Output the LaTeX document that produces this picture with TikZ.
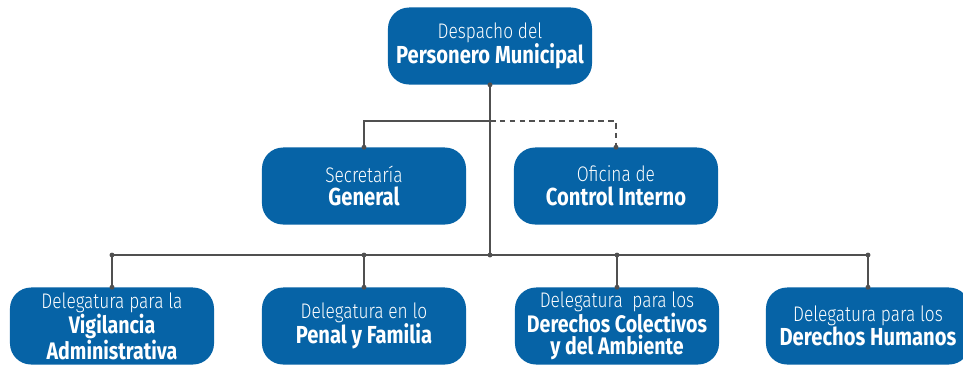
\documentclass[tikz,border=0pt]{standalone}
\usepackage{fontspec}
\setmainfont{Fira Sans}[FakeStretch=0.82]
\newfontfamily\lightfont{Fira Sans Light}[FakeStretch=0.82]
\definecolor{orgblue}{RGB}{6,99,166}
\definecolor{orgline}{RGB}{80,80,80}
\tikzset{
    unit/.style={rectangle, rounded corners=15pt, fill=orgblue, text=white,
        minimum width=5.1cm, minimum height=1.925cm, align=center,
        inner sep=0pt, font=\fontsize{17.5}{17}\bfseries\selectfont},
    dense/.style={font=\fontsize{17}{16}\bfseries\selectfont},
    link/.style={draw=orgline, line width=1.1pt},
    joint/.style={circle, fill=orgline, inner sep=0pt, minimum size=3.5pt}
}
\newcommand{\orgbox}[5][]{
    % one box: extra style, name, position, light line, bold lines
    \node[unit, #1] (#2) at (#3) {{\lightfont\mdseries\fontsize{15}{17}\selectfont #4}\\#5};
}
\begin{document}
\begin{tikzpicture}[x=0.025cm, y=-0.025cm]
    \useasboundingbox (0,0) rectangle (963,364);
    \clip (0,0) rectangle (963,364);

    % Nodes
    \orgbox{desp}{490,46}{Despacho del}{Personero Municipal}
    \orgbox{secr}{364,186}{Secretaría}{General}
    \orgbox{ofic}{616,186}{Oficina de}{Control Interno}
    \orgbox[dense]{vigi}{112,326}{Delegatura para la}{Vigilancia\\Administrativa}
    \orgbox{pena}{364,326}{Delegatura en lo}{Penal y Familia}
    \orgbox[dense]{colec}{617,326}{Delegatura\ \ para los}{Derechos Colectivos\\y del Ambiente}
    \orgbox{huma}{868,326}{Delegatura para los}{Derechos Humanos}

    \coordinate (mid) at (490,121);
    \coordinate (bus) at (490,255);

    % Edges
    \draw[link] (desp.south) -- (desp.south |- bus);
    \draw[link] (secr.north) |- (mid);
    \draw[link, dashed, dash pattern=on 4pt off 3pt] (mid) -| (ofic.north);
    \draw[link] (vigi.north |- bus) -- (huma.north |- bus);
    \foreach \d in {vigi, pena, colec, huma} {
        \draw[link] (\d.north) -- (\d.north |- bus);
        \node[joint] at (\d.north |- bus) {};
        \node[joint] at (\d.north) {};
    }
    \node[joint] at (desp.south |- bus) {};
    \node[joint] at (desp.south) {};
    \node[joint] at (secr.north) {};
    \node[joint] at (ofic.north) {};

\end{tikzpicture}
\end{document}
